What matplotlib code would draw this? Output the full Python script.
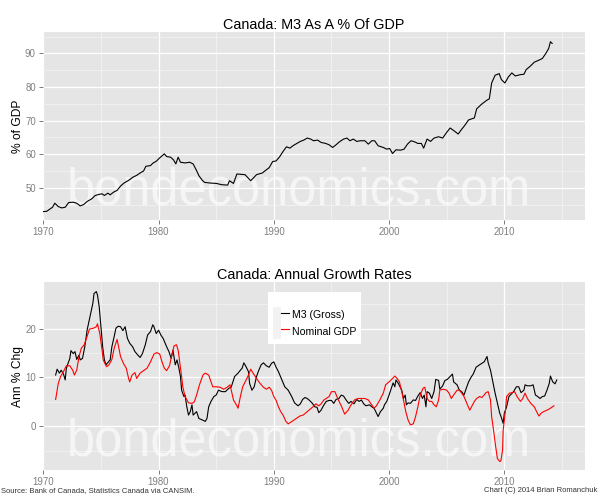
import matplotlib
matplotlib.use("Agg")
import matplotlib.pyplot as plt
from matplotlib.patches import Rectangle
from matplotlib.lines import Line2D
from matplotlib.legend_handler import HandlerTuple, HandlerLine2D
from matplotlib.ticker import MultipleLocator

plt.rcParams['font.family'] = ['Liberation Sans', 'DejaVu Sans']

# ---------------- data ----------------
ratio_years = [1970.0, 1970.3, 1970.6, 1970.8, 1971.0, 1971.3, 1971.6, 1971.9, 1972.2, 1972.6,
               1972.9, 1973.2, 1973.5, 1973.8, 1974.2, 1974.5, 1974.8, 1975.1, 1975.3, 1975.6,
               1975.8, 1976.1, 1976.4, 1976.7, 1977.0, 1977.4, 1977.8, 1978.1, 1978.4, 1978.7,
               1978.9, 1979.3, 1979.5, 1979.8, 1980.1, 1980.5, 1980.7, 1981.05, 1981.3, 1981.5,
               1981.7, 1981.9, 1982.3, 1982.7, 1983.0, 1983.3, 1983.5, 1983.8, 1984.0, 1984.5,
               1985.0, 1985.5, 1986.0, 1986.15, 1986.5, 1986.8, 1987.5, 1988.0, 1988.5, 1989.0,
               1989.3, 1989.6, 1989.9, 1990.2, 1990.5, 1990.8, 1991.1, 1991.4, 1991.65, 1991.9,
               1992.3, 1992.6, 1992.9, 1993.2, 1993.45, 1993.8, 1994.1, 1994.5, 1994.8, 1995.1,
               1995.4, 1995.7, 1996.05, 1996.35, 1996.6, 1996.9, 1997.2, 1997.5, 1997.9, 1998.2,
               1998.5, 1998.75, 1999.05, 1999.5, 1999.8, 2000.05, 2000.3, 2000.6, 2001.0, 2001.3,
               2001.6, 2001.9, 2002.2, 2002.5, 2002.8, 2003.0, 2003.3, 2003.6, 2003.9, 2004.3,
               2004.65, 2005.0, 2005.3, 2005.7, 2006.0, 2006.25, 2006.55, 2006.9, 2007.4, 2007.6,
               2008.0, 2008.45, 2008.7, 2008.9, 2009.2, 2009.55, 2009.75, 2010.05, 2010.35, 2010.65,
               2010.95, 2011.4, 2011.7, 2011.9, 2012.25, 2012.6, 2013.0, 2013.3, 2013.6, 2013.85,
               2014.0, 2014.15]
ratio_vals = [42.9, 43.0, 43.7, 44.2, 45.4, 44.4, 44.0, 44.2, 45.6, 45.7,
              45.4, 44.6, 45.0, 45.9, 46.7, 47.7, 48.0, 48.2, 47.7, 48.4,
              47.9, 48.7, 49.2, 50.5, 51.4, 52.2, 53.2, 53.7, 54.4, 55.0,
              56.4, 56.6, 57.3, 57.9, 58.9, 60.1, 59.3, 59.1, 58.3, 57.1,
              59.1, 57.6, 57.4, 57.6, 57.1, 55.1, 53.6, 52.2, 51.6, 51.4,
              51.3, 50.9, 50.8, 52.1, 51.3, 54.1, 53.9, 52.1, 53.9, 54.4,
              55.2, 56.0, 57.8, 58.0, 59.2, 60.8, 62.2, 61.8, 62.5, 63.0,
              63.8, 64.2, 64.8, 64.5, 64.0, 64.2, 63.5, 63.2, 62.8, 62.0,
              62.8, 63.7, 64.5, 64.8, 64.0, 64.5, 63.8, 64.0, 64.0, 63.0,
              64.0, 64.0, 62.5, 62.0, 61.5, 61.7, 60.2, 61.3, 61.2, 61.5,
              63.0, 64.0, 63.7, 63.2, 63.2, 61.8, 64.5, 63.8, 64.8, 65.2,
              64.8, 66.5, 67.8, 66.8, 66.0, 67.2, 68.5, 70.2, 70.8, 73.5,
              74.8, 76.0, 76.5, 81.2, 83.5, 84.0, 82.2, 81.2, 83.0, 84.2,
              83.3, 83.7, 83.8, 85.2, 86.2, 87.4, 88.0, 88.5, 90.0, 91.5,
              93.5, 93.0]

m3_years = [1971.07, 1971.2, 1971.4, 1971.55, 1971.75, 1971.9, 1972.0, 1972.3, 1972.4, 1972.6,
            1972.75, 1972.9, 1973.1, 1973.2, 1973.4, 1973.6, 1973.8, 1974.05, 1974.3, 1974.4,
            1974.6, 1974.7, 1974.85, 1975.0, 1975.15, 1975.3, 1975.45, 1975.65, 1975.8, 1975.95,
            1976.15, 1976.3, 1976.5, 1976.7, 1976.9, 1977.1, 1977.3, 1977.5, 1977.75, 1977.95,
            1978.2, 1978.4, 1978.6, 1978.85, 1979.05, 1979.3, 1979.5, 1979.6, 1979.8, 1980.0,
            1980.2, 1980.4, 1980.7, 1980.9, 1981.1, 1981.25, 1981.45, 1981.6, 1981.75, 1981.9,
            1982.0, 1982.2, 1982.3, 1982.45, 1982.6, 1982.75, 1982.9, 1983.0, 1983.3, 1983.5,
            1983.8, 1984.05, 1984.2, 1984.35, 1984.55, 1984.8, 1985.0, 1985.2, 1985.5, 1985.8,
            1986.1, 1986.3, 1986.6, 1986.9, 1987.1, 1987.25, 1987.4, 1987.55, 1987.8, 1987.9,
            1988.1, 1988.3, 1988.5, 1988.7, 1988.9, 1989.1, 1989.35, 1989.6, 1989.8, 1990.0,
            1990.2, 1990.4, 1990.65, 1990.95, 1991.25, 1991.55, 1991.8, 1992.1, 1992.3, 1992.5,
            1992.7, 1992.9, 1993.1, 1993.35, 1993.55, 1993.75, 1993.9, 1994.1, 1994.3, 1994.55,
            1994.8, 1995.0, 1995.2, 1995.4, 1995.65, 1995.85, 1996.05, 1996.3, 1996.5, 1996.7,
            1996.95, 1997.2, 1997.4, 1997.6, 1997.8, 1998.0, 1998.3, 1998.5, 1998.7, 1998.9,
            1999.05, 1999.25, 1999.5, 1999.6, 1999.8, 2000.0, 2000.2, 2000.35, 2000.5, 2000.6,
            2000.8, 2001.1, 2001.25, 2001.4, 2001.5, 2001.65, 2001.85, 2002.1, 2002.3, 2002.5,
            2002.7, 2002.9, 2003.05, 2003.2, 2003.3, 2003.5, 2003.7, 2003.9, 2004.05, 2004.3,
            2004.4, 2004.65, 2004.85, 2005.05, 2005.3, 2005.5, 2005.6, 2005.9, 2006.1, 2006.3,
            2006.5, 2006.7, 2006.9, 2007.1, 2007.3, 2007.55, 2007.85, 2008.05, 2008.25, 2008.5,
            2008.6, 2008.8, 2009.0, 2009.2, 2009.4, 2009.6, 2009.7, 2009.9, 2010.0, 2010.2,
            2010.4, 2010.6, 2010.8, 2011.05, 2011.25, 2011.45, 2011.7, 2011.8, 2012.0, 2012.3,
            2012.5, 2012.7, 2012.9, 2013.1, 2013.3, 2013.5, 2013.7, 2013.9, 2014.0, 2014.2,
            2014.4, 2014.55]
m3_vals = [10.5, 11.7, 10.9, 11.5, 10.7, 9.5, 11.9, 13.9, 15.5, 14.9,
           15.3, 13.7, 14.6, 13.6, 13.9, 16.3, 19.7, 22.5, 25.2, 27.2,
           27.6, 26.9, 24.5, 20.4, 16.3, 13.6, 12.6, 13.2, 13.6, 16.3,
           18.4, 20.1, 20.5, 20.4, 19.6, 20.4, 18.0, 17.0, 16.3, 15.3,
           14.6, 14.1, 14.9, 16.7, 18.7, 19.4, 20.8, 20.4, 19.0, 19.7,
           18.7, 18.0, 16.3, 15.3, 13.9, 15.6, 12.6, 13.6, 12.1, 10.2,
           7.4, 6.1, 6.4, 4.0, 2.3, 3.0, 4.4, 2.3, 3.0, 1.6,
           1.3, 1.0, 1.6, 4.0, 5.1, 6.1, 6.4, 7.4, 7.1, 7.1,
           7.8, 8.0, 10.2, 10.9, 11.5, 11.9, 13.0, 12.4, 11.2, 8.8,
           7.4, 8.1, 10.2, 11.5, 12.6, 13.0, 12.4, 12.1, 12.9, 13.2,
           12.1, 11.2, 9.8, 8.1, 7.4, 6.1, 4.8, 4.2, 4.6, 5.5,
           5.9, 5.7, 5.3, 4.7, 4.0, 3.9, 2.8, 3.3, 4.2, 5.1,
           5.3, 5.3, 4.7, 5.5, 5.7, 6.4, 6.2, 5.3, 4.7, 5.1,
           4.6, 5.5, 5.1, 5.4, 4.6, 4.2, 4.4, 4.0, 3.7, 2.7,
           2.0, 3.0, 3.7, 4.4, 5.1, 6.4, 7.8, 8.9, 8.1, 9.5,
           8.8, 7.4, 5.7, 6.4, 4.4, 4.8, 4.7, 5.4, 5.3, 6.2,
           6.9, 5.7, 6.4, 4.0, 7.1, 6.8, 5.7, 7.1, 9.6, 9.4,
           7.6, 8.3, 9.4, 9.6, 10.2, 10.7, 9.1, 8.5, 7.4, 7.1,
           6.4, 7.8, 9.1, 10.0, 10.7, 12.1, 12.6, 12.9, 13.2, 14.3,
           13.0, 11.5, 9.1, 6.8, 4.7, 2.7, 2.1, 0.6, 2.7, 4.0,
           6.1, 6.6, 7.1, 8.1, 8.1, 6.9, 7.4, 8.5, 8.3, 8.3,
           8.5, 6.4, 6.1, 5.7, 6.1, 6.2, 7.4, 8.8, 10.3, 9.1,
           8.7, 9.5]

gdp_years = [1971.07, 1971.2, 1971.3, 1971.5, 1971.75, 1972.0, 1972.3, 1972.55, 1972.7, 1972.9,
             1973.1, 1973.3, 1973.55, 1973.8, 1974.0, 1974.35, 1974.6, 1974.7, 1974.9, 1975.1,
             1975.2, 1975.4, 1975.5, 1975.7, 1975.95, 1976.15, 1976.4, 1976.5, 1976.7, 1976.95,
             1977.2, 1977.4, 1977.5, 1977.7, 1977.95, 1978.1, 1978.4, 1978.7, 1979.0, 1979.3,
             1979.6, 1979.85, 1980.1, 1980.3, 1980.5, 1980.7, 1980.95, 1981.15, 1981.35, 1981.55,
             1981.7, 1981.85, 1982.0, 1982.1, 1982.3, 1982.6, 1982.9, 1983.1, 1983.3, 1983.55,
             1983.85, 1984.05, 1984.35, 1984.55, 1984.7, 1985.0, 1985.35, 1985.65, 1985.95, 1986.2,
             1986.5, 1986.8, 1986.9, 1987.1, 1987.3, 1987.6, 1987.8, 1988.0, 1988.2, 1988.5,
             1988.8, 1989.1, 1989.35, 1989.6, 1989.8, 1990.0, 1990.2, 1990.4, 1990.6, 1990.8,
             1991.05, 1991.25, 1991.45, 1991.7, 1991.95, 1992.25, 1992.55, 1992.8, 1993.05, 1993.35,
             1993.65, 1993.9, 1994.1, 1994.35, 1994.55, 1994.8, 1995.0, 1995.3, 1995.6, 1995.85,
             1996.15, 1996.45, 1996.7, 1997.0, 1997.3, 1997.6, 1997.9, 1998.2, 1998.5, 1998.7,
             1998.9, 1999.2, 1999.5, 1999.7, 2000.0, 2000.3, 2000.5, 2000.7, 2000.9, 2001.1,
             2001.25, 2001.45, 2001.65, 2001.85, 2002.1, 2002.3, 2002.5, 2002.7, 2002.95, 2003.1,
             2003.3, 2003.5, 2003.7, 2003.9, 2004.1, 2004.3, 2004.4, 2004.7, 2005.0, 2005.2,
             2005.4, 2005.6, 2005.9, 2006.1, 2006.3, 2006.5, 2006.8, 2007.0, 2007.2, 2007.4,
             2007.6, 2007.85, 2008.05, 2008.25, 2008.4, 2008.6, 2008.8, 2008.9, 2009.1, 2009.25,
             2009.4, 2009.6, 2009.7, 2009.85, 2009.9, 2010.1, 2010.2, 2010.45, 2010.7, 2010.9,
             2011.1, 2011.4, 2011.6, 2011.8, 2012.0, 2012.3, 2012.6, 2012.8, 2013.0, 2013.2,
             2013.4, 2013.7, 2014.0, 2014.3]
gdp_vals = [5.5, 7.4, 8.8, 10.2, 11.2, 12.4, 12.4, 11.5, 10.5, 11.5,
            14.3, 16.0, 16.7, 18.4, 19.9, 20.1, 20.4, 21.0, 19.0, 15.6,
            13.6, 12.6, 12.2, 12.6, 13.7, 16.0, 17.8, 16.7, 14.3, 12.9,
            11.9, 9.8, 9.1, 10.5, 11.0, 9.8, 10.9, 11.4, 11.9, 13.2,
            14.8, 15.1, 14.8, 13.2, 11.9, 11.4, 12.4, 14.6, 16.5, 16.7,
            15.6, 12.9, 10.2, 8.1, 6.1, 4.8, 4.7, 5.0, 6.4, 8.5,
            10.5, 10.9, 10.5, 9.1, 8.1, 8.1, 8.0, 7.6, 8.0, 8.5,
            5.4, 4.2, 3.7, 6.1, 8.1, 9.5, 10.5, 11.7, 10.9, 9.8,
            8.8, 8.0, 7.6, 8.0, 7.4, 6.1, 5.3, 4.0, 3.0, 2.3,
            1.0, 0.5, 0.8, 1.2, 1.6, 2.1, 2.3, 2.8, 3.3, 3.9,
            4.6, 4.2, 4.6, 5.4, 5.7, 6.1, 7.1, 7.1, 5.4, 4.2,
            2.5, 3.3, 4.4, 5.4, 5.7, 5.7, 5.7, 5.4, 4.4, 3.7,
            4.2, 5.4, 6.8, 8.5, 9.1, 9.8, 10.3, 9.8, 9.1, 7.1,
            5.4, 3.0, 1.3, 0.3, 0.5, 2.0, 4.0, 6.4, 7.8, 8.0,
            5.7, 5.1, 5.1, 4.4, 4.0, 5.4, 7.4, 7.6, 7.4, 6.8,
            5.7, 6.4, 7.4, 7.4, 6.8, 6.1, 4.4, 3.3, 4.2, 5.1,
            5.7, 6.1, 5.9, 6.4, 6.9, 7.1, 5.4, 2.0, -1.4, -4.2,
            -6.6, -7.2, -7.1, -4.8, -0.8, 3.3, 6.1, 6.8, 6.9, 7.1,
            6.1, 5.1, 5.7, 6.8, 5.7, 4.7, 4.0, 3.0, 2.1, 2.7,
            3.0, 3.3, 3.7, 4.2]

series_labels = ['M3 (Gross)', 'Nominal GDP']
titles = ['Canada: M3 As A % Of GDP', 'Canada: Annual Growth Rates']
ylabels = ['% of GDP', 'Ann % Chg']
watermark = 'bondeconomics.com'
source_text = 'Source: Bank of Canada, Statistics Canada via CANSIM.'
credit_text = 'Chart (C) 2014 Brian Romanchuk'

# ---------------- style ----------------
PANEL = '#E5E5E5'
MINOR = '#F2F2F2'
TICKC = '#7F7F7F'
PX = 0.72  # points per pixel at dpi 100

fig = plt.figure(figsize=(6, 5), dpi=100)
ax1 = fig.add_axes([43.3 / 600, 1 - 220 / 500, (585 - 43.3) / 600, (220 - 32.3) / 500])
ax2 = fig.add_axes([43.3 / 600, 1 - 470 / 500, (585 - 43.3) / 600, (470 - 282.3) / 500])


def style(ax, ymaj, ymin, ylim, title, ylabel):
    ax.set_facecolor(PANEL)
    for s in ax.spines.values():
        s.set_visible(False)
    ax.set_xlim(1970, 2017.0)
    ax.set_ylim(*ylim)
    ax.xaxis.set_major_locator(MultipleLocator(10))
    ax.xaxis.set_minor_locator(MultipleLocator(5))
    ax.yaxis.set_major_locator(MultipleLocator(ymaj))
    ax.yaxis.set_minor_locator(MultipleLocator(ymin))
    ax.grid(which='major', color='white', linewidth=1.3 * PX)
    ax.grid(which='minor', color=MINOR, linewidth=0.9 * PX)
    ax.set_axisbelow(True)
    ax.tick_params(which='major', length=4 * PX, width=1.0 * PX, color=TICKC,
                   labelcolor=TICKC, labelsize=9.6 * PX, pad=2.5)
    ax.tick_params(which='minor', length=0)
    ax.set_title(title, fontsize=14.4 * PX, pad=2.0, color='black')
    ax.set_ylabel(ylabel, fontsize=12 * PX, labelpad=1.0, color='black')


style(ax1, 10, 5, (40.4, 96.3), titles[0], ylabels[0])
style(ax2, 10, 5, (-8.95, 29.5), titles[1], ylabels[1])

ax1.plot(ratio_years, ratio_vals, color='black', linewidth=0.8, zorder=3)
l1, = ax2.plot(m3_years, m3_vals, color='black', linewidth=0.8, zorder=3)
l2, = ax2.plot(gdp_years, gdp_vals, color='#FF0000', linewidth=0.8, zorder=3)

# watermarks
ax1.text(1992.2, 45.0, watermark, fontsize=50.6 * PX, color='white', alpha=0.65,
         ha='center', va='baseline', zorder=2)
ax2.text(1992.2, -5.9, watermark, fontsize=50.6 * PX, color='white', alpha=0.65,
         ha='center', va='baseline', zorder=2)

# legend with grey key backgrounds
bg1 = Rectangle((0, 0), 1, 1, facecolor=MINOR, edgecolor='none')
bg2 = Rectangle((0, 0), 1, 1, facecolor=MINOR, edgecolor='none')
leg = ax2.legend([(bg1, l1), (bg2, l2)], series_labels,
                 handler_map={tuple: HandlerTuple(ndivide=None, pad=0),
                              Line2D: HandlerLine2D(marker_pad=0)},
                 loc='upper left', bbox_to_anchor=(0.415, 0.947), borderaxespad=0,
                 title=' ', title_fontsize=10.5 * PX, fontsize=10.5 * PX,
                 frameon=True, fancybox=False, framealpha=1, facecolor='white',
                 edgecolor='none', handlelength=1.5, handleheight=2.0,
                 handletextpad=0.3, labelspacing=0.0, borderpad=0.45)
leg.set_zorder(5)

# footer
fig.text(0.002, 0.012, source_text, fontsize=7.6 * PX, color='#333333', ha='left', va='bottom')
fig.text(0.995, 0.012, credit_text, fontsize=7.6 * PX, color='#333333', ha='right', va='bottom')

fig.savefig('out.png', dpi=100)
